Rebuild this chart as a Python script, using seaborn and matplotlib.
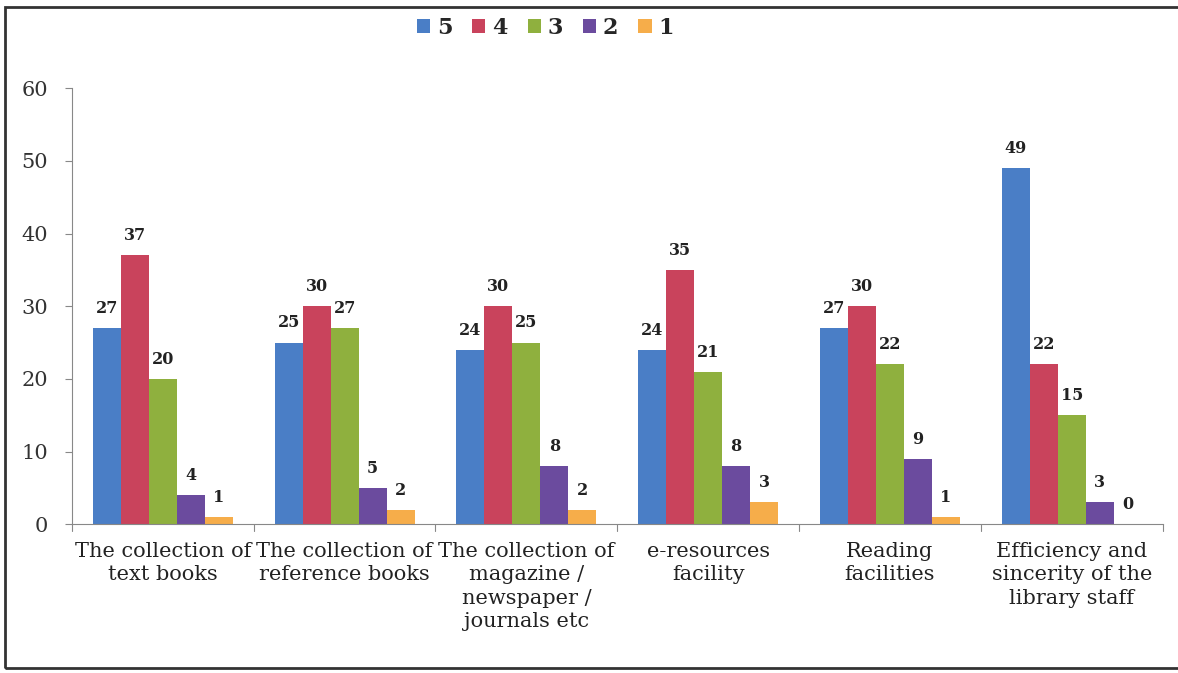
import pandas as pd
import seaborn as sns
import numpy as np
import matplotlib.pyplot as plt
from matplotlib.patches import Rectangle

sns.set_style(style='white')
plt.rcParams['font.family'] = ['DejaVu Serif']

categories = ['The collection of\ntext books',
              'The collection of\nreference books',
              'The collection of\nmagazine /\nnewspaper /\njournals etc',
              'e-resources\nfacility',
              'Reading\nfacilities',
              'Efficiency and\nsincerity of the\nlibrary staff']
ratings = ['5', '4', '3', '2', '1']
rating_5 = [27, 25, 24, 24, 27, 49]
rating_4 = [37, 30, 30, 35, 30, 22]
rating_3 = [20, 27, 25, 21, 22, 15]
rating_2 = [4, 5, 8, 8, 9, 3]
rating_1 = [1, 2, 2, 3, 1, 0]
colors = ['#4a7ec6', '#c9435c', '#8fb03e', '#6b4b9e', '#f6ad4a']

rows = []
for r, vals in zip(ratings, [rating_5, rating_4, rating_3, rating_2, rating_1]):
    for c, v in zip(categories, vals):
        rows.append({'category': c, 'rating': r, 'value': v})
df = pd.DataFrame(rows)

fig = plt.figure(figsize=(11.78, 6.73), dpi=100)
ax = fig.add_axes([0.061, 0.221, 0.926, 0.648])

sns.barplot(data=df, x='category', y='value', hue='rating', hue_order=ratings,
            palette=colors, width=0.77, gap=0, saturation=1, linewidth=0,
            ax=ax, legend=True)

for cont in ax.containers:
    ax.bar_label(cont, fmt='%d', padding=8, fontsize=11.5, fontweight='bold', color='#222222')

ax.set_ylim(0, 60)
ax.set_yticks(np.arange(0, 61, 10))
ax.set_xlim(-0.5, len(categories) - 0.5)
ax.set_xlabel('')
ax.set_ylabel('')
ax.tick_params(axis='y', labelsize=15, labelcolor='#333333', left=True, length=5, width=0.8,
               pad=12, color='#888888')
ax.tick_params(axis='x', labelsize=15, labelcolor='#222222', bottom=False, pad=9)
for lbl in ax.get_xticklabels():
    lbl.set_linespacing(1.3)

sns.despine(ax=ax, top=True, right=True)
ax.spines['left'].set_color('#888888')
ax.spines['bottom'].set_color('#888888')
# separators between categories
for b in np.arange(-0.5, len(categories), 1.0):
    ax.plot([b, b], [0, -0.9], color='#888888', lw=0.8, clip_on=False)

leg = ax.legend(loc='center', bbox_to_anchor=(0.434, 1.138), ncol=5, frameon=False,
                handlelength=0.6, handleheight=0.6, handletextpad=0.3, columnspacing=0.9,
                prop={'size': 16, 'weight': 'bold'})

# outer frame
fig.patches.append(Rectangle((5 / 1178, 5 / 673), 1.1, 661 / 673, transform=fig.transFigure,
                             fill=False, edgecolor='#333333', lw=2))

fig.savefig('out.png', dpi=100, facecolor='white')
